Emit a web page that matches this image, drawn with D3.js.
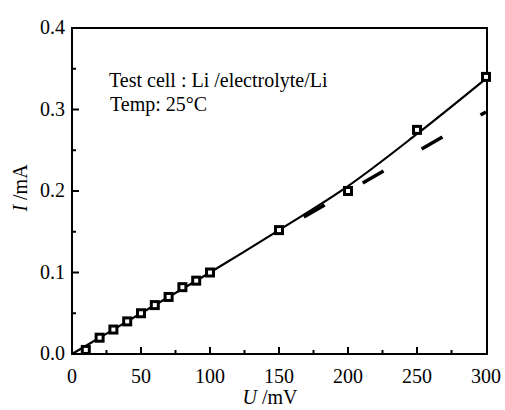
<!DOCTYPE html>
<html><head><meta charset="utf-8">
<script src="https://cdn.jsdelivr.net/npm/d3@7"></script>
<style>body{margin:0;background:#fff}svg{display:block}text{font-family:"Liberation Serif","Times New Roman",serif;fill:#000}</style>
</head><body><svg id="c" width="505" height="410"></svg>
<script>
// measured points
const voltage = [10, 20, 30, 40, 50, 60, 70, 80, 90, 100, 150, 200, 250, 300];
const current = [0.005, 0.02, 0.03, 0.04, 0.05, 0.06, 0.07, 0.082, 0.09, 0.1, 0.152, 0.2, 0.275, 0.34];
// fitted solid curve
const fitU = [0, 50, 100, 150, 200, 250, 300];
const fitI = [0, 0.05, 0.1, 0.152, 0.206, 0.27, 0.338];
// linear (ohmic) dashed line
const linU = [168, 300];
const linI = [0.168, 0.297];
const xTicks = [0, 50, 100, 150, 200, 250, 300];
const yTicks = [0.0, 0.1, 0.2, 0.3, 0.4];
const xMinor = [25, 75, 125, 175, 225, 275];
const yMinor = [0.05, 0.15, 0.25, 0.35];

const svg = d3.select("#c");
const L = 72, R = 487, T = 28, B = 354;
const x = d3.scaleLinear().domain([0, 300]).range([L, R - 1]);
const y = d3.scaleLinear().domain([0, 0.4]).range([B, T]);
const FS = 20;

// frame
svg.append("rect").attr("x", L).attr("y", T).attr("width", R - L).attr("height", B - T)
  .attr("fill", "none").attr("stroke", "#000").attr("stroke-width", 2);

// ticks (inward)
const g = svg.append("g").attr("stroke", "#000").attr("stroke-width", 2);
xTicks.slice(1, -1).forEach(v => g.append("line").attr("x1", x(v)).attr("x2", x(v)).attr("y1", B).attr("y2", B - 7));
xMinor.forEach(v => g.append("line").attr("x1", x(v)).attr("x2", x(v)).attr("y1", B).attr("y2", B - 4));
yTicks.slice(1, -1).forEach(v => g.append("line").attr("x1", L).attr("x2", L + 7).attr("y1", y(v)).attr("y2", y(v)));
yMinor.forEach(v => g.append("line").attr("x1", L).attr("x2", L + 4).attr("y1", y(v)).attr("y2", y(v)));

// tick labels
xTicks.forEach(v => svg.append("text").attr("x", x(v)).attr("y", 383).attr("text-anchor", "middle")
  .attr("font-size", FS).text(v));
yTicks.forEach(v => svg.append("text").attr("x", 65).attr("y", y(v) + 6).attr("text-anchor", "end")
  .attr("font-size", FS).text(d3.format(".1f")(v)));

// axis titles
svg.append("text").attr("x", 270).attr("y", 404).attr("text-anchor", "middle").attr("font-size", FS)
  .html('<tspan font-style="italic">U</tspan> /mV');
svg.append("text").attr("transform", "translate(27,188) rotate(-90)").attr("text-anchor", "middle").attr("font-size", FS)
  .html('<tspan font-style="italic">I</tspan> /mA');

// fit curve
const line = d3.line().x(d => x(d[0])).y(d => y(d[1])).curve(d3.curveCatmullRom);
svg.append("path").datum(fitU.map((u, i) => [u, fitI[i]])).attr("d", line)
  .attr("fill", "none").attr("stroke", "#000").attr("stroke-width", 2.2);
// dashed line
svg.append("path").datum(linU.map((u, i) => [u, linI[i]])).attr("d", d3.line().x(d => x(d[0])).y(d => y(d[1])))
  .attr("fill", "none").attr("stroke", "#000").attr("stroke-width", 3.5).attr("stroke-dasharray", "24,44");

// markers
svg.append("g").selectAll("rect").data(voltage.map((u, i) => [u, current[i]])).join("rect")
  .attr("x", d => x(d[0]) - 3.5).attr("y", d => y(d[1]) - 3.5).attr("width", 7).attr("height", 7)
  .attr("fill", "#fff").attr("stroke", "#000").attr("stroke-width", 3);

// annotation
svg.append("text").attr("x", 109).attr("y", 87).attr("font-size", FS).text("Test cell : Li /electrolyte/Li");
svg.append("text").attr("x", 110).attr("y", 111).attr("font-size", FS).text("Temp: 25°C");
</script></body></html>
